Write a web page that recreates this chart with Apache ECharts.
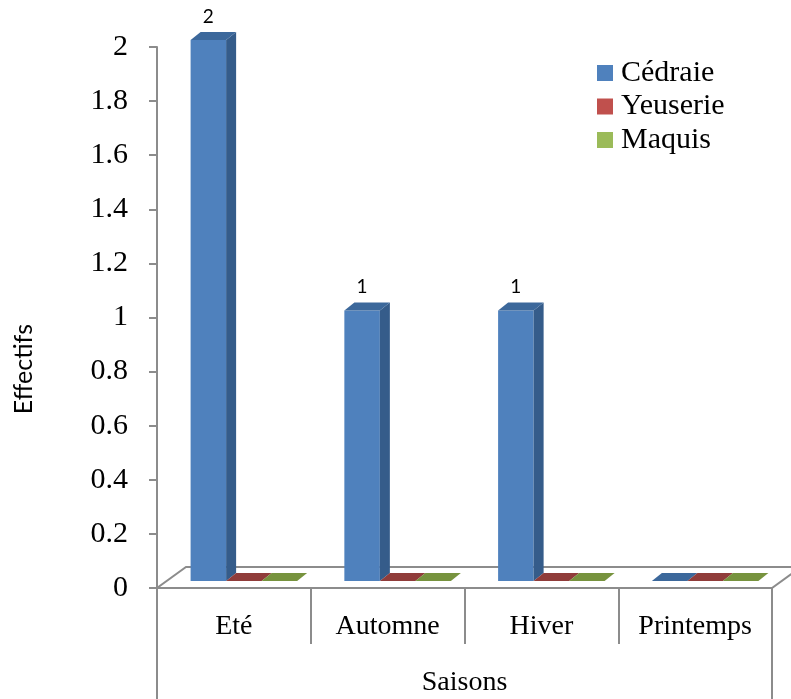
<!DOCTYPE html>
<html>
<head>
<meta charset="utf-8">
<script src="https://cdn.jsdelivr.net/npm/echarts@6/dist/echarts.min.js"></script>
<style>html,body{margin:0;padding:0;background:#fff}#c{width:791px;height:699px}</style>
</head>
<body>
<div id="c"></div>
<script>
var categories = ['Eté', 'Automne', 'Hiver', 'Printemps'];
var seriesNames = ['Cédraie', 'Yeuserie', 'Maquis'];
var cedraie = [2, 1, 1, 0];
var yeuserie = [0, 0, 0, 0];
var maquis = [0, 0, 0, 0];
var yTicks = [0, 0.2, 0.4, 0.6, 0.8, 1, 1.2, 1.4, 1.6, 1.8, 2];
var axisTitleX = 'Saisons';
var axisTitleY = 'Effectifs';

var faceColors = [
  { front: '#4F81BD', side: '#355C8A', top: '#3C689B' },
  { front: '#C0504D', side: '#8C3A38', top: '#903C3A' },
  { front: '#9BBB59', side: '#718A3F', top: '#77933E' }
];
var serif = '"Liberation Serif", "Times New Roman", serif';
var sans = 'Lato, "Open Sans", sans-serif';

// 3D geometry (pixels)
var FLOOR_DX = 29, FLOOR_DY = -21;
var OX = 10, OY = -7;      // bar placement inside floor depth
var DX = 10, DY = -8;      // bar depth
var PITCH = 0.231;         // bar width as fraction of band

function barRender(k, colors, showLabel) {
  return function (params, api) {
    var idx = api.value(0), val = api.value(1);
    var base = api.coord([idx, 0]);
    var topP = api.coord([idx, val]);
    var band = api.size([1, 0])[0];
    var w = band * PITCH;
    var left = base[0] - 1.5 * w + k * w + OX;
    var yb = base[1] + OY;
    var yt = topP[1] + OY;
    var children = [
      { type: 'polygon', shape: { points: [[left, yt], [left + w, yt], [left + w, yb], [left, yb]] },
        style: { fill: colors.front } },
      { type: 'polygon', shape: { points: [[left + w, yt], [left + w + DX, yt + DY], [left + w + DX, yb + DY], [left + w, yb]] },
        style: { fill: colors.side } },
      { type: 'polygon', shape: { points: [[left, yt], [left + DX, yt + DY], [left + w + DX, yt + DY], [left + w, yt]] },
        style: { fill: colors.top } }
    ];
    if (showLabel && val > 0) {
      children.push({ type: 'text', style: { text: String(val), x: left + w / 2, y: yt + DY - 6,
        align: 'center', verticalAlign: 'bottom', fill: '#000', font: '19px ' + sans } });
    }
    return { type: 'group', children: children };
  };
}

function floorRender(params, api) {
  var cs = params.coordSys;
  var x0 = cs.x, x1 = cs.x + cs.width, y = cs.y + cs.height;
  return {
    type: 'polygon',
    shape: { points: [[x0, y], [x1, y], [x1 + FLOOR_DX, y + FLOOR_DY], [x0 + FLOOR_DX, y + FLOOR_DY]] },
    style: { fill: '#fff', stroke: '#8c8c8c', lineWidth: 2 }
  };
}

var allValues = [cedraie, yeuserie, maquis];
var series = [{
  type: 'custom', name: '_floor', renderItem: floorRender, data: [[0, 0]], z: 1, silent: true,
  xAxisIndex: 0, yAxisIndex: 0
}];
seriesNames.forEach(function (n, k) {
  series.push({
    type: 'custom', name: n, xAxisIndex: 0, yAxisIndex: 0, z: 2 + k,
    itemStyle: { color: faceColors[k].front },
    encode: { x: 0, y: 1 },
    data: allValues[k].map(function (v, i) { return [i, v]; }),
    renderItem: barRender(k, faceColors[k], true)
  });
});

var chart = echarts.init(document.getElementById('c'), null, { renderer: 'canvas' });
chart.setOption({
  animation: false,
  backgroundColor: '#fff',
  grid: { left: 157, right: 19, top: 47, bottom: 111, containLabel: false, outerBoundsMode: 'none' },
  legend: {
    orient: 'vertical', left: 592, top: 53, itemWidth: 16, itemHeight: 16, itemGap: 3.5,
    icon: 'rect', data: seriesNames,
    textStyle: { fontFamily: serif, fontSize: 30, color: '#000', lineHeight: 28, padding: [0, 0, 0, 3] }
  },
  graphic: [{
    type: 'text', x: 24, y: 369, rotation: Math.PI / 2,
    style: { text: axisTitleY, font: '25px ' + sans, fill: '#000', align: 'center', verticalAlign: 'middle' }
  }],
  xAxis: [{
    type: 'category', data: categories, boundaryGap: true,
    axisLine: { lineStyle: { color: '#8c8c8c', width: 2 } },
    axisTick: { show: true, interval: 0, length: 56, alignWithLabel: false, lineStyle: { color: '#8c8c8c', width: 2 } },
    axisLabel: { interval: 0, margin: 25, color: '#000', fontFamily: serif, fontSize: 28 },
    splitLine: { show: false }
  }, {
    type: 'category', data: [axisTitleX], position: 'bottom', boundaryGap: true,
    axisLine: { show: false },
    axisTick: { show: true, length: 112, lineStyle: { color: '#8c8c8c', width: 2 } },
    axisLabel: { margin: 81, color: '#000', fontFamily: serif, fontSize: 28 },
    splitLine: { show: false }
  }],
  yAxis: {
    type: 'value', min: 0, max: 2, interval: 0.2,
    axisLine: { show: true, lineStyle: { color: '#8c8c8c', width: 2 } },
    axisTick: { show: true, length: 8, lineStyle: { color: '#8c8c8c', width: 2 } },
    axisLabel: { margin: 29, color: '#000', fontFamily: serif, fontSize: 30,
      formatter: function (v) { var t = yTicks.filter(function (x) { return Math.abs(x - v) < 1e-9; }); return t.length ? String(t[0]) : ''; } },
    splitLine: { show: false }
  },
  series: series
});
</script>
</body>
</html>
